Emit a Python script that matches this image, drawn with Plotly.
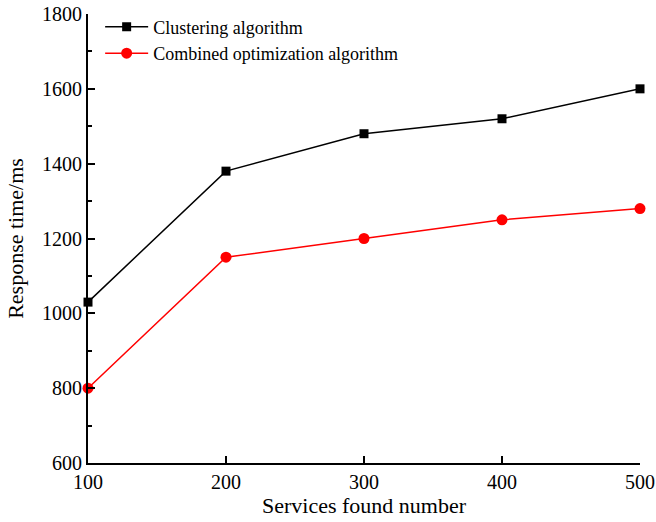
import plotly.graph_objects as go

x_vals = [100, 200, 300, 400, 500]
clustering = [1030, 1380, 1480, 1520, 1600]
combined = [800, 1150, 1200, 1250, 1280]
names = ["Clustering algorithm", "Combined optimization algorithm"]

font_family = "Liberation Serif, Times New Roman, serif"

fig = go.Figure()
fig.add_trace(go.Scatter(x=x_vals, y=clustering, mode="lines+markers", name=names[0],
                         line=dict(color="black", width=1.5),
                         marker=dict(symbol="square", size=9, color="black"),
                         cliponaxis=False))
fig.add_trace(go.Scatter(x=x_vals, y=combined, mode="lines+markers", name=names[1],
                         line=dict(color="red", width=1.5),
                         marker=dict(symbol="circle", size=11, color="red"),
                         cliponaxis=False))

fig.update_layout(
    width=656, height=522,
    margin=dict(l=88, r=16, t=14, b=59, autoexpand=False),
    paper_bgcolor="white", plot_bgcolor="white",
    font=dict(family=font_family, color="black", size=20),
    showlegend=True,
    legend=dict(x=0.022, y=1.012, xanchor="left", yanchor="top",
                bgcolor="rgba(0,0,0,0)", font=dict(size=18),
                tracegroupgap=0, itemwidth=43),
    xaxis=dict(range=[100, 500], tickvals=x_vals, showline=True, linecolor="black",
               linewidth=2, ticks="inside", ticklen=7, tickwidth=2, tickcolor="black",
               showgrid=False, zeroline=False, mirror=False, automargin=False,
               title=dict(text="Services found number", font=dict(size=22), standoff=6),
               tickfont=dict(size=20)),
    yaxis=dict(range=[600, 1800], dtick=200, showline=True, linecolor="black",
               linewidth=2, ticks="inside", ticklen=7, tickwidth=2, tickcolor="black",
               minor=dict(ticks="inside", dtick=100, ticklen=4, tickwidth=2, tickcolor="black"),
               showgrid=False, zeroline=False, mirror=False, automargin=False,
               title=dict(text="Response time/ms", font=dict(size=22), standoff=12),
               tickfont=dict(size=20)),
)

fig.write_html("out.html")
